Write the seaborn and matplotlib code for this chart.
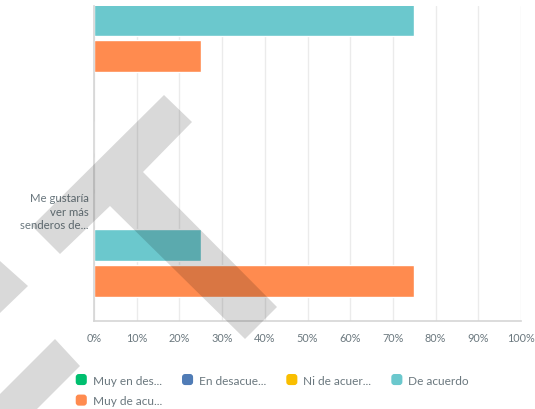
import matplotlib
matplotlib.use("Agg")
import matplotlib.pyplot as plt
from matplotlib.patches import Patch, Polygon, FancyBboxPatch
from matplotlib.legend_handler import HandlerPatch
import seaborn as sns
import pandas as pd

# ---- data ----
questions = ["Pregunta anterior", "Me gustaría\nver más\nsenderos de..."]
answers = ["Muy en des...", "En desacue...", "Ni de acuer...", "De acuerdo", "Muy de acu..."]
colors = ["#00BF6F", "#507CB6", "#F9BE00", "#6BC8CD", "#FF8B4F"]
q1_values = [0, 0, 0, 75, 25]
q2_values = [0, 0, 0, 25, 75]
x_ticks = [0, 10, 20, 30, 40, 50, 60, 70, 80, 90, 100]
x_labels = ["0%", "10%", "20%", "30%", "40%", "50%", "60%", "70%", "80%", "90%", "100%"]

rows = []
for q, vals in zip(questions, [q1_values, q2_values]):
    for a, v in zip(answers, vals):
        rows.append({"question": q, "answer": a, "pct": v})
df = pd.DataFrame(rows)

sns.set_theme(style="white")
plt.rcParams["font.family"] = ["Lato", "DejaVu Sans"]
TXT = "#6B787F"

W, H = 535, 410
fig = plt.figure(figsize=(W / 100, H / 100), dpi=100)
ax = fig.add_axes([94 / W, 1 - 322 / H, (521 - 94) / W, (322 - 7) / H])

sns.barplot(data=df, x="pct", y="question", hue="answer", order=questions,
            hue_order=answers, palette=colors, orient="h", width=0.8, gap=0.11,
            dodge=True, saturation=1, ax=ax, legend=False, errorbar=None)

ax.set_xlim(0, 100)
ax.set_ylim(1.498, 0.098)
ax.set_xticks(x_ticks)
ax.set_xticklabels(x_labels)
ax.set_xlabel("")
ax.set_ylabel("")
ax.grid(axis="x", color="#EBEBEB", linewidth=1.0, zorder=0)
ax.set_axisbelow(True)
for s in ["top", "right"]:
    ax.spines[s].set_visible(False)
ax.spines["left"].set_color("#D5D5D5")
ax.spines["left"].set_linewidth(1.2)
ax.spines["bottom"].set_color("#D5D5D5")
ax.spines["bottom"].set_linewidth(1.2)
ax.tick_params(axis="x", length=0, pad=8, labelsize=7.8, labelcolor=TXT)
ax.tick_params(axis="y", length=0, pad=4, labelsize=8.2, labelcolor=TXT)
for t in ax.get_yticklabels():
    t.set_horizontalalignment("right")
    t.set_multialignment("right")
    t.set_linespacing(1.25)


class RoundHandler(HandlerPatch):
    def create_artists(self, legend, orig_handle, xdescent, ydescent, width,
                       height, fontsize, trans):
        s = min(width, height)
        p = FancyBboxPatch((-xdescent + (width - s) / 2, -ydescent + (height - s) / 2),
                           s, s, boxstyle="round,pad=0,rounding_size=2.2",
                           facecolor=orig_handle.get_facecolor(), edgecolor="none",
                           transform=trans)
        return [p]


handles = [Patch(facecolor=c, label=a) for a, c in zip(answers, colors)]
# matplotlib fills legend columns first; reorder so rows read left to right
leg_order = [0, 4, 1, 2, 3]
handles = [handles[i] for i in leg_order]
leg = fig.legend(handles=handles, loc="upper left",
                 bbox_to_anchor=(75 / W, 1 - 375 / H), ncol=4, frameon=False,
                 fontsize=8.6, handlelength=1.05, handleheight=1.05,
                 handletextpad=0.45, columnspacing=1.6, labelspacing=0.75,
                 borderpad=0, borderaxespad=0,
                 handler_map={Patch: RoundHandler()})
for t in leg.get_texts():
    t.set_color(TXT)


# watermark (decorative, figure pixel coordinates)
def px(pts):
    return [(x / W, 1 - y / H) for x, y in pts]


wm_shapes = [
    [(164, 96), (192, 123), (143, 173), (277, 308), (245, 340), (110, 207), (60, 255), (32, 227)],
    [(0, 262), (28, 287), (0, 314)],
    [(55, 340), (80, 367), (37, 410), (0, 410), (0, 395)],
]
for shp in wm_shapes:
    fig.add_artist(Polygon(px(shp), closed=True, transform=fig.transFigure,
                           facecolor="black", alpha=0.15, edgecolor="none", zorder=10))

fig.savefig("out.png", dpi=100, facecolor="white")
